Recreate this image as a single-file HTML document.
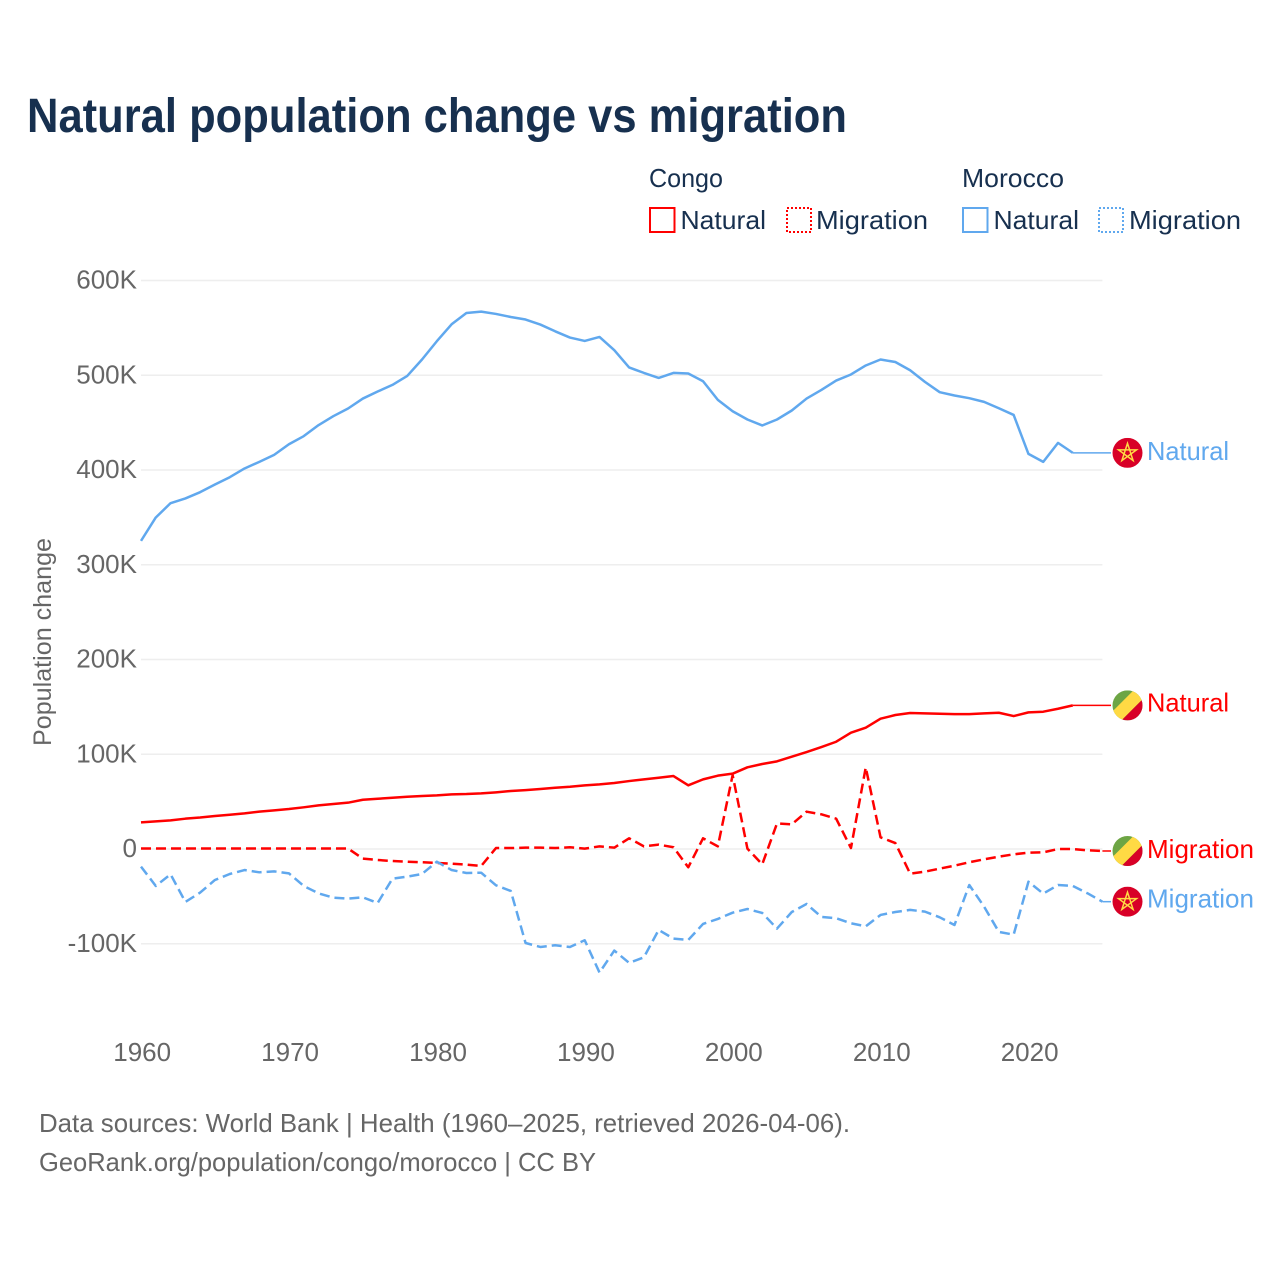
<!DOCTYPE html>
<html lang="en">
<head>
<meta charset="utf-8">
<title>Natural population change vs migration</title>
<style>
  html, body { margin: 0; padding: 0; background: #fff; }
  svg { display: block; font-family: "Liberation Sans", sans-serif; }
</style>
</head>
<body>
<svg id="chart" xmlns="http://www.w3.org/2000/svg" width="1280" height="1280" viewBox="0 0 1280 1280">
  <defs>
    <clipPath id="flag-clip"><circle cx="0" cy="0" r="15"/></clipPath>
  </defs>
  <rect x="0" y="0" width="1280" height="1280" fill="#ffffff"/>
  <text x="27" y="132" font-size="48" font-weight="700" fill="#17304f" textLength="820" lengthAdjust="spacingAndGlyphs">Natural population change vs migration</text>

  <g font-size="26" fill="#17304f">
    <text x="649" y="187" textLength="74" lengthAdjust="spacingAndGlyphs">Congo</text>
    <text x="962" y="187" textLength="102" lengthAdjust="spacingAndGlyphs">Morocco</text>
    <g>
      <rect x="650" y="208" width="24.5" height="24" fill="none" stroke="#ff0000" stroke-width="2"/>
      <text x="680.5" y="229" textLength="85.5" lengthAdjust="spacingAndGlyphs">Natural</text>
    </g>
    <g>
      <rect x="787" y="208" width="24" height="24" fill="none" stroke="#ff0000" stroke-width="2" stroke-dasharray="2 2"/>
      <text x="816" y="229" textLength="112" lengthAdjust="spacingAndGlyphs">Migration</text>
    </g>
    <g>
      <rect x="963" y="208" width="24.5" height="24" fill="none" stroke="#60a8ee" stroke-width="2"/>
      <text x="993.5" y="229" textLength="85.5" lengthAdjust="spacingAndGlyphs">Natural</text>
    </g>
    <g>
      <rect x="1099" y="208" width="24" height="24" fill="none" stroke="#60a8ee" stroke-width="2" stroke-dasharray="2 2"/>
      <text x="1129" y="229" textLength="112" lengthAdjust="spacingAndGlyphs">Migration</text>
    </g>
  </g>

  <g id="grid"></g>
  <g id="y-axis" font-size="26" fill="#666666" text-anchor="end"></g>
  <g id="x-axis" font-size="26" fill="#666666" text-anchor="middle"></g>
  <text transform="translate(51,642) rotate(-90)" font-size="25" fill="#666666" text-anchor="middle" textLength="208" lengthAdjust="spacingAndGlyphs">Population change</text>
  <g id="series" fill="none" stroke-linejoin="round"></g>
  <g id="end-labels" font-size="26"></g>

  <g font-size="26" fill="#666666">
    <text x="39" y="1132" textLength="811" lengthAdjust="spacingAndGlyphs">Data sources: World Bank | Health (1960–2025, retrieved 2026-04-06).</text>
    <text x="39" y="1171" textLength="557" lengthAdjust="spacingAndGlyphs">GeoRank.org/population/congo/morocco | CC BY</text>
  </g>
</svg>

<script>
const startYear = 1960;
const xTickYears = [1960, 1970, 1980, 1990, 2000, 2010, 2020];
const yTickValues = [600, 500, 400, 300, 200, 100, 0, -100];
const yTickLabels = ["600K", "500K", "400K", "300K", "200K", "100K", "0", "-100K"];

const moroccoNatural = [325.2, 349.9, 365, 370, 376.6, 384.7, 392.4, 401.6, 408.6, 416, 427.2, 435.7, 447.3, 456.8, 464.9, 475.4, 482.8, 489.8, 499.3, 516.6, 535.9, 553.8, 565.7, 567.2, 564.7, 561.5, 558.8, 553.5, 546.4, 539.8, 536.2, 540.4, 526.4, 508.2, 502.5, 497.2, 502.5, 501.8, 493.7, 474, 462, 453.3, 447, 453.3, 462.8, 475.4, 484.5, 494.4, 500.8, 510.3, 516.6, 514, 505.3, 493, 482.1, 478.6, 475.8, 471.9, 465.2, 458.1, 417, 408.6, 428.6, 418.1];
const moroccoMigration = [-18.6, -39, -26.7, -55.9, -46, -32.7, -26.4, -22.2, -24.6, -23.6, -25.7, -39, -46.8, -51.3, -52.4, -51, -57, -31.3, -29.2, -26.4, -13.4, -22.2, -25.3, -25, -38.3, -44.3, -99.2, -103.4, -101.6, -103.4, -96.3, -130.4, -107.2, -120.2, -114.3, -85.4, -94.6, -96, -79.1, -73.8, -67.2, -63.3, -67.5, -84, -66.5, -58, -71.7, -73.1, -78.4, -81.6, -69.6, -66.5, -64.3, -66.1, -72.1, -80.2, -38, -60.8, -87.5, -90.4, -34.5, -47.1, -38, -39, -46.8, -55.6];
const congoNatural = [28.1, 29.2, 30.2, 32, 33.2, 34.8, 36.2, 37.6, 39.4, 40.8, 42.2, 44, 46, 47.5, 48.9, 52, 53, 54.1, 55.2, 55.9, 56.6, 57.7, 58, 58.7, 59.8, 61.2, 62.2, 63.3, 64.7, 65.7, 67.2, 68.2, 69.6, 71.7, 73.5, 75.2, 77, 67.2, 73.5, 77.4, 79.5, 86.2, 89.7, 92.5, 97.4, 102.3, 107.6, 113.2, 122.7, 128, 137.5, 141.4, 143.5, 143.1, 142.7, 142.4, 142.4, 143.1, 143.8, 140.3, 144.2, 144.9, 148, 151.6];
const congoMigration = [0.5, 0.5, 0.5, 0.5, 0.5, 0.5, 0.5, 0.5, 0.5, 0.5, 0.5, 0.5, 0.5, 0.5, 0.5, -10.2, -11.6, -12.7, -13.4, -14, -14.8, -15.5, -16.5, -17.9, 1, 1, 1.4, 1.4, 1, 1.8, 0.4, 2.8, 1.4, 11.3, 2.8, 4.6, 1.8, -19.3, 11.3, 2.8, 78, 0.4, -16.2, 27, 26, 39.4, 36.6, 32, 1, 86.1, 12.3, 6.3, -26, -23.9, -20.7, -17.6, -14, -10.9, -8.1, -5.6, -3.9, -3.5, 0, 0, -1.4, -2.1];

const SVG_NS = "http://www.w3.org/2000/svg";
const X_LEFT = 141, X_RIGHT = 1102.4, X_SPAN_YEARS = 65, LABEL_X = 1111;
const Y_ZERO = 849, Y_PER_K = 0.9475;
const RED = "#ff0000", BLUE = "#60a8ee";

function xScale(year) { return X_LEFT + (year - startYear) * (X_RIGHT - X_LEFT) / X_SPAN_YEARS; }
function yScale(value) { return Y_ZERO - value * Y_PER_K; }

function make(tag, attrs, parent) {
  const node = document.createElementNS(SVG_NS, tag);
  for (const key in attrs) node.setAttribute(key, attrs[key]);
  parent.appendChild(node);
  return node;
}

const gridGroup = document.getElementById("grid");
const yAxisGroup = document.getElementById("y-axis");
const xAxisGroup = document.getElementById("x-axis");
const seriesGroup = document.getElementById("series");
const labelGroup = document.getElementById("end-labels");

yTickValues.forEach(function (value, i) {
  const y = yScale(value);
  const line = make("line", { x1: X_LEFT, x2: X_RIGHT, y1: y, y2: y, stroke: "#eeeeee", "stroke-width": 1.6 }, gridGroup);
  
  
  const label = make("text", { x: 137, y: y + 8 }, yAxisGroup);
  label.textContent = yTickLabels[i];
  
  
});

xTickYears.forEach(function (year) {
  const label = make("text", { x: xScale(year) + 1.2, y: 1061 }, xAxisGroup);
  label.textContent = String(year);
  
  
});

function drawSeries(values, color, dashed, seriesName) {
  const points = values.map(function (v, i) {
    return xScale(startYear + i).toFixed(2) + "," + yScale(v).toFixed(2);
  }).join(" ");
  const attrs = { points: points, stroke: color, "stroke-width": 2.5 };
  if (dashed) attrs["stroke-dasharray"] = "10 5";
  const line = make("polyline", attrs, seriesGroup);
  
  
  const last = values[values.length - 1];
  const lastX = xScale(startYear + values.length - 1);
  const connector = make("line", { x1: lastX, x2: LABEL_X, y1: yScale(last), y2: yScale(last), stroke: color, "stroke-width": 1.5 }, seriesGroup);
  
  
}

function drawFlag(cy, country) {
  const flag = make("g", { transform: "translate(1127.5," + cy + ")", "clip-path": "url(#flag-clip)" }, labelGroup);
  
  
  if (country === "congo") {
    make("rect", { x: -15, y: -15, width: 30, height: 30, fill: "#6da544" }, flag);
    make("polygon", { points: "-15,6 6,-15 15,-15 15,-6 -6,15 -15,15", fill: "#ffda44" }, flag);
    make("polygon", { points: "15,-6 15,15 -6,15", fill: "#d80027" }, flag);
  } else {
    make("rect", { x: -15, y: -15, width: 30, height: 30, fill: "#d80027" }, flag);
    make("polygon", { points: "0,-9.5 5.6,7.7 -9,-3 9,-3 -5.6,7.7", fill: "none", stroke: "#ffda44", "stroke-width": 1.5 }, flag);
  }
}

function drawEndLabel(values, color, country, text, textWidth, yShift) {
  const y = yScale(values[values.length - 1]);
  drawFlag(y, country);
  const label = make("text", { x: 1147, y: y + 8 + yShift, fill: color, textLength: textWidth, lengthAdjust: "spacingAndGlyphs" }, labelGroup);
  label.textContent = text;
  
  
}

drawSeries(moroccoNatural, BLUE, false, "line-morocco-natural");
drawSeries(congoNatural, RED, false, "line-congo-natural");
drawSeries(congoMigration, RED, true, "line-congo-migration");
drawSeries(moroccoMigration, BLUE, true, "line-morocco-migration");

drawEndLabel(moroccoNatural, BLUE, "morocco", "Natural", 82, -1);
drawEndLabel(congoNatural, RED, "congo", "Natural", 82, -2);
drawEndLabel(congoMigration, RED, "congo", "Migration", 107, -1);
drawEndLabel(moroccoMigration, BLUE, "morocco", "Migration", 107, -2);
</script>
</body>
</html>
